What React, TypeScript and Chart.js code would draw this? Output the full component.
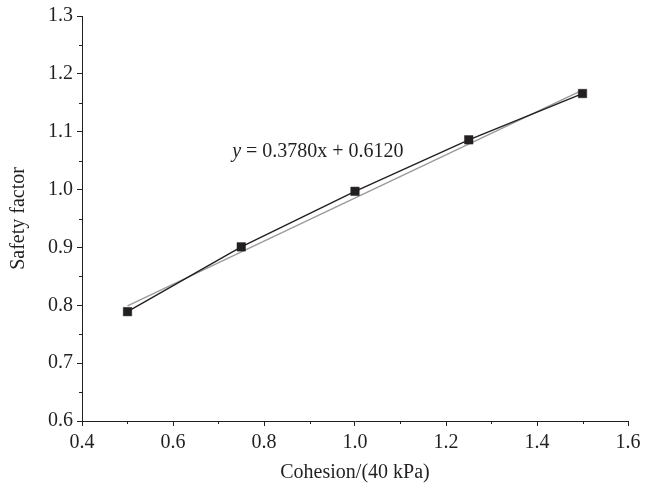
import React, { useEffect, useRef } from "react";
import { Chart, registerables } from "chart.js";

Chart.register(...registerables);

const cohesion = [0.5, 0.75, 1.0, 1.25, 1.5];
const safetyFactor = [0.789, 0.901, 0.997, 1.086, 1.166];
const fitX = [0.5, 1.5];
const fitY = [0.799, 1.172];
const xMinorTicks = [0.5, 0.7, 0.9, 1.1, 1.3, 1.5];
const yMinorTicks = [0.65, 0.75, 0.85, 0.95, 1.05, 1.15, 1.25];
const equationText = "= 0.3780x + 0.6120";
const equationAnchor = [0.73, 1.056];

const FONT = "'Liberation Serif', 'Times New Roman', serif";
const INK = "#231f20";
const FS = 20;

const extras = {
  id: "extras",
  afterDraw(chart: any) {
    const { ctx, scales } = chart;
    const xs = scales.x;
    const ys = scales.y;
    ctx.save();
    ctx.strokeStyle = INK;
    ctx.lineWidth = 1;
    const bottom = ys.getPixelForValue(0.6);
    const left = xs.getPixelForValue(0.4);
    xMinorTicks.forEach((v) => {
      const px = Math.round(xs.getPixelForValue(v)) + 0.5;
      ctx.beginPath();
      ctx.moveTo(px, bottom);
      ctx.lineTo(px, bottom + 3);
      ctx.stroke();
    });
    yMinorTicks.forEach((v) => {
      const py = Math.round(ys.getPixelForValue(v)) + 0.5;
      ctx.beginPath();
      ctx.moveTo(left, py);
      ctx.lineTo(left - 3, py);
      ctx.stroke();
    });
    const tx = xs.getPixelForValue(equationAnchor[0]);
    const ty = ys.getPixelForValue(equationAnchor[1]);
    ctx.fillStyle = INK;
    ctx.textBaseline = "alphabetic";
    ctx.textAlign = "left";
    ctx.font = `italic ${FS}px ${FONT}`;
    ctx.fillText("y", tx, ty);
    const w = ctx.measureText("y ").width;
    ctx.font = `${FS}px ${FONT}`;
    ctx.fillText(equationText, tx + w, ty);
    ctx.restore();
  },
};

export default function App() {
  const ref = useRef<HTMLCanvasElement | null>(null);
  useEffect(() => {
    if (!ref.current) return;
    const chart = new Chart(ref.current, {
      type: "scatter",
      data: {
        datasets: [
          {
            label: "data",
            data: cohesion.map((x, i) => ({ x, y: safetyFactor[i] })),
            showLine: true,
            borderColor: INK,
            backgroundColor: INK,
            borderWidth: 1.4,
            pointStyle: "rect",
            pointRadius: 6,
            pointBorderWidth: 0.5,
            order: 0,
          },
          {
            label: "fit",
            data: fitX.map((x, i) => ({ x, y: fitY[i] })),
            showLine: true,
            borderColor: "#9a9a9a",
            borderWidth: 1.4,
            pointRadius: 0,
            order: 1,
          },
        ],
      },
      plugins: [extras],
      options: {
        responsive: false,
        animation: false,
        layout: { padding: { left: 7, right: 27, top: 16, bottom: 7 } },
        plugins: { legend: { display: false }, tooltip: { enabled: false } },
        scales: {
          x: {
            type: "linear",
            min: 0.4,
            max: 1.6,
            ticks: {
              stepSize: 0.2,
              color: INK,
              font: { family: FONT, size: FS },
              padding: 5,
              callback: (v: any) => Number(v).toFixed(1),
            },
            grid: { drawOnChartArea: false, drawTicks: true, tickLength: 5, color: INK },
            border: { display: true, color: INK, width: 1 },
            title: {
              display: true,
              text: "Cohesion/(40 kPa)",
              color: INK,
              font: { family: FONT, size: FS },
              padding: { top: 0, bottom: 0 },
            },
            afterFit: (s: any) => {
              s.height = 492 - 421 - 7;
            },
          },
          y: {
            type: "linear",
            min: 0.6,
            max: 1.3,
            ticks: {
              stepSize: 0.1,
              color: INK,
              font: { family: FONT, size: FS },
              padding: 4,
              callback: (v: any) => Number(v).toFixed(1),
            },
            grid: { drawOnChartArea: false, drawTicks: true, tickLength: 5, color: INK },
            border: { display: true, color: INK, width: 1 },
            title: {
              display: true,
              text: "Safety factor",
              color: INK,
              font: { family: FONT, size: FS },
              padding: { top: 0, bottom: 0 },
            },
            afterFit: (s: any) => {
              s.width = 82 - 7;
            },
          },
        },
      },
    } as any);
    return () => chart.destroy();
  }, []);
  return (
    <div style={{ position: "fixed", left: 0, top: 0, width: 655, height: 492, background: "#fff" }}>
      <canvas ref={ref} width={655} height={492} style={{ width: 655, height: 492 }} />
    </div>
  );
}
